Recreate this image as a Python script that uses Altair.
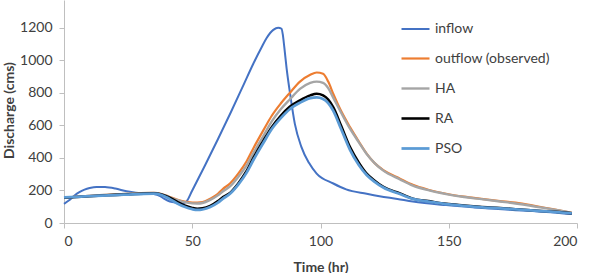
import altair as alt
import pandas as pd

# Hydrograph series: time (hr) and discharge (cms)
inflow_t = [0, 2, 4, 6, 8, 10, 12.7, 16, 20, 24.4, 28, 32, 35, 37.5, 39, 41.3, 44, 46.6, 47.8,
            50, 55, 60, 65, 70, 73.8, 77, 79, 81.6, 83.5, 84.8, 85.3, 85.9, 86.8, 88.1, 90,
            92.5, 95.5, 98.5, 105, 110, 118, 123, 130, 136, 149, 160, 175, 188, 198]
inflow_q = [118, 140, 168, 190, 205, 215, 222, 221, 212, 195, 186, 182, 178, 165, 150, 132, 125, 122, 133,
            200, 355, 515, 680, 850, 980, 1080, 1138, 1188, 1202, 1195, 1160, 1080, 950, 800, 610,
            470, 370, 304, 243, 207, 180, 165, 148, 132, 110, 96, 80, 68, 55]

out_t = [0, 5, 10, 15, 20, 25, 30, 35, 38, 41, 44, 47, 50, 52, 54, 57, 60, 62, 64.7, 68, 71.2, 74,
         77.7, 81, 84.5, 88, 92, 96, 98.5, 101, 103, 105, 108, 111.5, 115, 118, 121, 124.5, 131,
         136, 142, 149, 156, 162, 170, 176, 182, 188, 193, 198]
out_q = [155, 162, 167, 172, 176, 180, 184, 185, 178, 162, 145, 132, 126, 125, 128, 150, 180, 210, 243, 305, 380, 465,
         570, 660, 735, 800, 870, 912, 926, 918, 870, 794, 690, 590, 500, 427, 370, 325, 273,
         235, 205, 180, 162, 150, 135, 125, 110, 92, 78, 63]

ha_t = out_t
ha_q = [155, 162, 167, 172, 176, 180, 184, 185, 178, 160, 142, 128, 121, 120, 123, 142, 170, 195, 225, 285, 355, 435,
        535, 625, 700, 760, 825, 862, 870, 862, 830, 770, 680, 580, 495, 425, 370, 322, 268,
        230, 202, 178, 160, 148, 132, 120, 106, 90, 77, 62]

ra_t = out_t
ra_q = [155, 160, 165, 169, 173, 176, 180, 183, 176, 158, 132, 108, 93, 88, 90, 105, 135, 160, 185, 245, 320, 405,
        505, 590, 660, 715, 755, 785, 795, 785, 760, 712, 600, 467, 370, 304, 262, 222, 182,
        150, 135, 118, 108, 100, 92, 85, 78, 72, 67, 60]

pso_t = out_t
pso_q = [157, 161, 165, 168, 172, 175, 178, 180, 172, 150, 122, 100, 85, 80, 83, 98, 125, 150, 180, 238, 310, 392,
         492, 578, 645, 700, 740, 768, 773, 763, 738, 690, 580, 450, 355, 295, 255, 218, 178,
         148, 132, 116, 106, 98, 90, 84, 77, 71, 66, 60]

series_names = ["inflow", "outflow (observed)", "HA", "RA", "PSO"]
series_colors = ["#4472C4", "#ED7D31", "#A5A5A5", "#000000", "#5B9BD5"]
series_widths = [2, 2.75, 2.75, 2.75, 2.75]

x_ticks = [0, 50, 100, 150, 200]
y_ticks = [0, 200, 400, 600, 800, 1000, 1200]

rows = []
for name, ts, qs in zip(series_names,
                        [inflow_t, out_t, ha_t, ra_t, pso_t],
                        [inflow_q, out_q, ha_q, ra_q, pso_q]):
    for t, q in zip(ts, qs):
        rows.append({"series": name, "t": t, "q": q})
df = pd.DataFrame(rows)

FONT = "Lato"
TXT = "#404040"
AXIS_GRAY = "#BFBFBF"

chart = alt.Chart(df).mark_line(interpolate="monotone").encode(
    x=alt.X("t:Q",
            scale=alt.Scale(domain=[0, 200], nice=False),
            axis=alt.Axis(values=x_ticks, title="Time (hr)", grid=False, format="d",
                          domainColor=AXIS_GRAY, tickColor=AXIS_GRAY, tickSize=5,
                          labelPadding=6, labelFont=FONT, labelFontSize=14, labelColor=TXT,
                          titleFont=FONT, titleFontSize=14, titleFontWeight="bold",
                          titleColor=TXT, titleY=44, titleBaseline="middle")),
    y=alt.Y("q:Q",
            scale=alt.Scale(domain=[0, 1372], nice=False),
            axis=alt.Axis(values=y_ticks, title="Discharge (cms)", grid=False, format="d",
                          domainColor=AXIS_GRAY, tickColor=AXIS_GRAY, tickSize=5,
                          labelPadding=7, labelFont=FONT, labelFontSize=14, labelColor=TXT,
                          titleFont=FONT, titleFontSize=14, titleFontWeight="bold",
                          titleColor=TXT, titleX=-55, titleY=110, titleAngle=-90,
                          titleAlign="center", titleBaseline="middle")),
    color=alt.Color("series:N",
                    scale=alt.Scale(domain=series_names, range=series_colors),
                    legend=alt.Legend(title=None, orient="none", legendX=336, legendY=14,
                                      symbolType="stroke", symbolSize=784,
                                      symbolStrokeWidth=2.75, rowPadding=7,
                                      labelOffset=4, labelFont=FONT, labelFontSize=14,
                                      labelColor=TXT)),
    strokeWidth=alt.StrokeWidth("series:N",
                                scale=alt.Scale(domain=series_names, range=series_widths),
                                legend=None),
    detail="series:N",
    order=alt.Order("t:Q"),
).properties(
    width=513,
    height=223,
    autosize=alt.AutoSizeParams(type="none"),
    padding={"left": 64, "top": 0, "right": 14, "bottom": 50},
).configure_view(stroke=None)

chart.save("out.html", embed_options={"renderer": "svg", "actions": False})
